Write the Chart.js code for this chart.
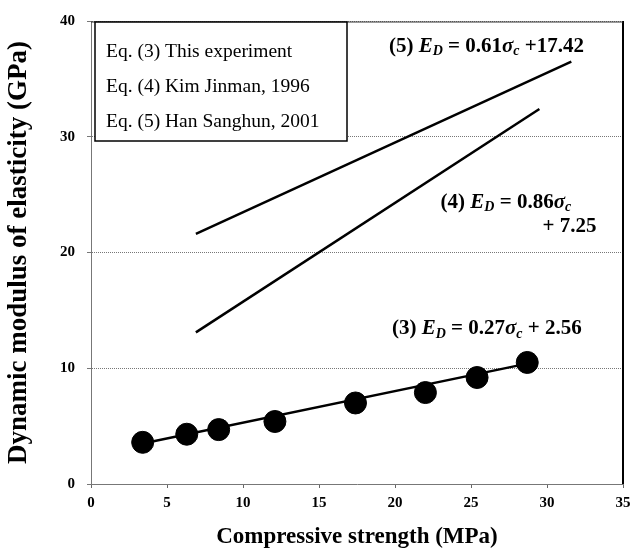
<!DOCTYPE html>
<html>
<head>
<meta charset="utf-8">
<script src="https://cdn.jsdelivr.net/npm/chart.js@4.4.1/dist/chart.umd.min.js"></script>
<style>
    body { margin: 0; background: #fff; }
    #wrap { width: 643px; height: 555px; }
</style>
</head>
<body>
<div id="wrap"><canvas id="myChart" width="643" height="555"></canvas></div>
<script>
// measured points, Eq. (3) this experiment
const strength = [3.4, 6.3, 8.4, 12.1, 17.4, 22.0, 25.4, 28.7];
const modulus = [3.6, 4.3, 4.7, 5.4, 7.0, 7.9, 9.2, 10.5];

// regression lines as drawn (end points)
const eq3Line = [{x: 3.4, y: 3.5}, {x: 28.7, y: 10.4}];
const eq4Line = [{x: 6.9, y: 13.1}, {x: 29.5, y: 32.4}];
const eq5Line = [{x: 6.9, y: 21.6}, {x: 31.6, y: 36.5}];

const legendLines = [
    'Eq. (3) This experiment',
    'Eq. (4) Kim Jinman, 1996',
    'Eq. (5) Han Sanghun, 2001'
];

const xTicks = [0, 5, 10, 15, 20, 25, 30, 35];
const yTicks = [0, 10, 20, 30, 40];

const serif = "'Liberation Serif', 'Times New Roman', serif";

// equation labels and where they sit (data units)
const equations = [
    {num: '(5) ', coef: '0.61', rest: ' +17.42', x: 19.6, y: 37.8},
    {num: '(4) ', coef: '0.86', rest: '', x: 23.0, y: 24.3, second: '+ 7.25', x2: 29.7, y2: 22.2},
    {num: '(3) ', coef: '0.27', rest: ' + 2.56', x: 19.8, y: 13.4}
];

function drawRuns(ctx, runs, x, y) {
    let cx = x;
    runs.forEach(r => {
        ctx.font = r.f;
        ctx.fillText(r.t, cx, y + (r.dy || 0));
        cx += ctx.measureText(r.t).width;
    });
}

const extras = {
    id: 'extras',
    afterDraw(chart) {
        const ctx = chart.ctx;
        const a = chart.chartArea;
        const xs = chart.scales.x, ys = chart.scales.y;
        ctx.save();

        // frame: solid right and top edges
        ctx.strokeStyle = '#000';
        ctx.lineWidth = 2;
        ctx.beginPath();
        ctx.moveTo(a.right, a.top);
        ctx.lineTo(a.right, a.bottom);
        ctx.stroke();
        ctx.lineWidth = 1.2;
        ctx.strokeStyle = '#333';
        ctx.beginPath();
        ctx.moveTo(a.left, a.top + 1);
        ctx.lineTo(a.right, a.top + 1);
        ctx.stroke();

        // legend box
        const bx = a.left + 4, by = a.top + 1, bw = 252, bh = 119;
        ctx.fillStyle = '#fff';
        ctx.fillRect(bx, by, bw, bh);
        ctx.strokeStyle = '#000';
        ctx.lineWidth = 1.5;
        ctx.strokeRect(bx, by, bw, bh);
        ctx.fillStyle = '#000';
        ctx.font = '19.5px ' + serif;
        ctx.textBaseline = 'middle';
        legendLines.forEach((t, i) => {
            ctx.fillText(t, bx + 11, by + 30 + i * 35);
        });

        // equation labels
        const big = 'bold 21px ' + serif;
        const it = 'italic bold 21px ' + serif;
        const sub = 'italic bold 14px ' + serif;
        equations.forEach(e => {
            const px = xs.getPixelForValue(e.x);
            const py = ys.getPixelForValue(e.y);
            drawRuns(ctx, [
                {t: e.num, f: big},
                {t: 'E', f: it},
                {t: 'D', f: sub, dy: 5},
                {t: ' = ' + e.coef, f: big},
                {t: 'σ', f: it},
                {t: 'c', f: sub, dy: 5},
                {t: e.rest, f: big}
            ], px, py);
            if (e.second) {
                ctx.font = big;
                ctx.fillText(e.second, xs.getPixelForValue(e.x2), ys.getPixelForValue(e.y2));
            }
        });
        ctx.restore();
    }
};

const lineSet = (pts) => ({
    type: 'line',
    data: pts,
    borderColor: '#000',
    borderWidth: 2.5,
    pointRadius: 0,
    fill: false
});

let config = {
    type: 'scatter',
    data: {
        datasets: [
            lineSet(eq3Line),
            lineSet(eq4Line),
            lineSet(eq5Line),
            {
                data: strength.map((v, i) => ({x: v, y: modulus[i]})),
                backgroundColor: '#000',
                borderColor: '#000',
                pointRadius: 11,
                pointHoverRadius: 11
            }
        ]
    },
    options: {
        responsive: false,
        animation: false,
        layout: {padding: {left: 0, right: 20, top: 17, bottom: 0}},
        plugins: {
            legend: {display: false},
            tooltip: {enabled: false}
        },
        scales: {
            x: {
                type: 'linear',
                min: 0,
                max: 35,
                afterBuildTicks: (s) => { s.ticks = xTicks.map(v => ({value: v})); },
                afterFit: (s) => { s.height = 71; },
                grid: {drawOnChartArea: false, tickLength: 4, color: '#666'},
                border: {color: '#777', width: 1, dash: [1, 1]},
                ticks: {
                    color: '#000',
                    padding: 6,
                    font: {family: serif, weight: 'bold', size: 15}
                },
                title: {
                    display: true,
                    text: 'Compressive strength (MPa)',
                    color: '#000',
                    padding: {bottom: 4},
                    font: {family: serif, weight: 'bold', size: 23}
                }
            },
            y: {
                min: 0,
                max: 40,
                afterBuildTicks: (s) => { s.ticks = yTicks.map(v => ({value: v})); },
                afterFit: (s) => { s.width = 91; },
                grid: {color: '#777', lineWidth: 1, tickLength: 4},
                border: {color: '#777', width: 1, dash: [1, 1]},
                ticks: {
                    color: '#000',
                    padding: 12,
                    font: {family: serif, weight: 'bold', size: 15}
                },
                title: {
                    display: true,
                    text: 'Dynamic modulus of elasticity (GPa)',
                    color: '#000',
                    padding: {top: 3},
                    font: {family: serif, weight: 'bold', size: 27}
                }
            }
        }
    },
    plugins: [extras]
};

let myChart = new Chart(document.getElementById('myChart'), config);
</script>
</body>
</html>
